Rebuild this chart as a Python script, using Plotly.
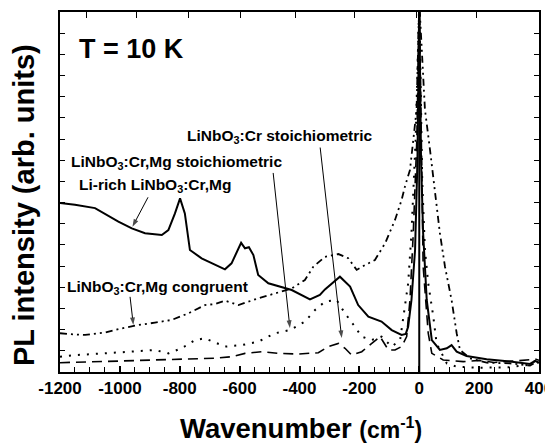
import plotly.graph_objects as go

# ---------------- data ----------------
x_solid = [-1200, -1150, -1083, -1005, -960, -916, -860, -838, -816, -799, -783, -766, -727, -682, -649,
           -627, -595, -582, -569, -554, -538, -504, -460, -426, -365, -332, -315, -287, -265, -231, -204,
           -170, -126, -92, -59, -45, -37, -26, -14, -6, 0, 6, 13, 25, 42, 69, 92, 108, 125, 158, 225,
           303, 370, 387, 400]
y_solid = [7.98, 7.9, 7.74, 7.1, 6.78, 6.55, 6.47, 6.7, 7.49, 8.2, 7.49, 5.76, 5.37, 5.05, 4.85,
           5.13, 6.1, 5.84, 5.89, 5.52, 4.58, 4.19, 4.03, 3.87, 3.43, 3.64, 3.9, 4.26, 4.5, 4.03, 3.16,
           2.61, 2.38, 1.98, 1.75, 1.8, 2.14, 3.4, 5.76, 10, 17.5, 10, 6.55, 3.4, 1.51, 1.04, 1.12, 1.27,
           0.96, 0.76, 0.6, 0.49, 0.38, 0.53, 0.45]

x_congruent = [-1200, -1172, -1116, -1050, -994, -938, -883, -827, -771, -716, -682, -649, -604, -538,
               -482, -426, -382, -354, -315, -270, -237, -209, -181, -148, -114, -81, -59, -48, -31, -9,
               0, 19, 36, 58, 69, 86, 108, 125, 136, 169, 225, 303, 370, 392, 400]
y_congruent = [1.83, 1.79, 1.75, 1.86, 2.06, 2.22, 2.33, 2.46, 2.77, 3.16, 3.21, 3.37, 3.16, 3.48,
               3.71, 3.95, 4.34, 4.97, 5.44, 5.57, 5.37, 4.82, 5.05, 5.29, 6.08, 7.18, 8.12, 8.75, 9.54,
               12.37, 17.5, 12.4, 10.48, 7.96, 6.55, 4.97, 3.4, 1.83, 1.04, 0.65, 0.44, 0.41, 0.3, 0.49, 0.4]

x_crmg_stoich = [-1200, -1150, -1050, -938, -883, -838, -794, -749, -716, -649, -593, -538, -482, -432,
                 -382, -348, -315, -276, -248, -215, -192, -159, -126, -92, -64, -37, -26, -12, 0, 10,
                 19, 30, 47, 58, 92, 125, 200, 300, 370, 385, 400]
y_crmg_stoich = [0.72, 0.8, 0.88, 1.0, 1.04, 0.88, 1.12, 1.51, 1.59, 1.2, 1.27, 1.43, 1.83, 1.98,
                 2.38, 2.93, 3.32, 3.4, 2.77, 2.14, 1.67, 1.51, 1.67, 1.2, 1.51, 4.19, 6.55, 11, 17.5, 9,
                 5.76, 4.19, 2.61, 1.35, 0.41, 0.25, 0.2, 0.22, 0.35, 0.5, 0.45]

x_cr_stoich = [-1200, -1105, -994, -883, -771, -682, -627, -582, -526, -471, -404, -337, -304, -270,
               -248, -226, -192, -159, -131, -103, -81, -59, -42, -31, -20, -8, 0, 8, 13, 30, 42, 80,
               147, 200, 250, 300, 350, 390, 400]
y_cr_stoich = [0.44, 0.49, 0.52, 0.57, 0.6, 0.65, 0.72, 0.88, 0.96, 0.88, 0.85, 0.91, 1.2, 1.35,
               1.12, 0.8, 0.96, 1.35, 1.67, 1.04, 1.04, 1.2, 1.67, 3.4, 6.55, 11, 17.5, 10, 5, 1.83,
               0.88, 0.57, 0.49, 0.55, 0.45, 0.5, 0.55, 0.6, 0.55]

x_range = [-1200, 400]
y_range = [0, 17]
x_major_ticks = [-1200, -1000, -800, -600, -400, -200, 0, 200, 400]
x_tick_labels = ["-1200", "-1000", "-800", "-600", "-400", "-200", "0", "200", "400"]
top_axis_ticks = [-1111, -946, -771, -596, -413, -217, -9, 192, 398]
y_ticks = list(range(0, 18))
zero_line_x = 0

x_title = "Wavenumber"
x_title_unit = "(cm<sup>-1</sup>)"
y_title = "PL intensity (arb. units)"

# label texts and positions (data units)
labels = [
    ("T = 10 K", -960, 15.25, 27),
    ("LiNbO<sub>3</sub>:Cr stoichiometric", -465, 11.1, 15.5),
    ("LiNbO<sub>3</sub>:Cr,Mg stoichiometric", -812, 9.9, 15.5),
    ("Li-rich LiNbO<sub>3</sub>:Cr,Mg", -883, 8.8, 15.5),
    ("LiNbO<sub>3</sub>:Cr,Mg congruent", -876, 4.0, 15.5),
]
# arrows: (tip x, tip y, tail x, tail y)
arrows = [
    (-259, 1.6, -331, 10.6),
    (-432, 2.08, -488, 9.4),
    (-958, 6.86, -906, 8.25),
    (-955, 2.22, -966, 3.55),
]

FONT = "Liberation Sans, Arial, sans-serif"

fig = go.Figure()
fig.add_trace(go.Scatter(x=x_cr_stoich, y=y_cr_stoich, mode="lines",
                         line=dict(color="black", width=1.6, dash="10px,6px"), hoverinfo="skip"))
fig.add_trace(go.Scatter(x=x_crmg_stoich, y=y_crmg_stoich, mode="lines",
                         line=dict(color="black", width=2, dash="2px,7px"), hoverinfo="skip"))
fig.add_trace(go.Scatter(x=x_congruent, y=y_congruent, mode="lines",
                         line=dict(color="black", width=1.8, dash="7px,4px,2px,4px,2px,4px"), hoverinfo="skip"))
fig.add_trace(go.Scatter(x=x_solid, y=y_solid, mode="lines",
                         line=dict(color="black", width=2), hoverinfo="skip"))
# invisible trace to carry the top axis
fig.add_trace(go.Scatter(x=x_range, y=y_range, xaxis="x2", mode="lines",
                         line=dict(width=0), opacity=0, hoverinfo="skip"))

# arrows as line + arrow marker at the tip
for tx, ty, sx, sy in arrows:
    fig.add_trace(go.Scatter(x=[sx, tx], y=[sy, ty], mode="lines+markers",
                             line=dict(color="black", width=1),
                             marker=dict(symbol="arrow", size=[0, 8], angleref="previous",
                                         color="black", line=dict(width=0)),
                             hoverinfo="skip", cliponaxis=False))

fig.add_shape(type="line", x0=zero_line_x, x1=zero_line_x, y0=0, y1=1, xref="x", yref="paper",
              line=dict(color="black", width=2))

for text, lx, ly, fs in labels:
    fig.add_annotation(x=lx, y=ly, text="<b>" + text + "</b>", showarrow=False,
                       font=dict(family=FONT, size=fs, color="black"), xanchor="center", yanchor="middle")

# axis titles
fig.add_annotation(xref="paper", yref="paper", x=0.503, y=-0.158, showarrow=False,
                   xanchor="center", yanchor="middle",
                   text="<b>" + x_title + " <span style='font-size:23px'>" + x_title_unit + "</span></b>",
                   font=dict(family=FONT, size=27.5, color="black"))
fig.add_annotation(xref="paper", yref="paper", x=-0.075, y=0.464, showarrow=False,
                   xanchor="center", yanchor="middle", textangle=-90,
                   text="<b>" + y_title + "</b>",
                   font=dict(family=FONT, size=29, color="black"))

# the page body has an 8px margin: margins compensate so the plot area sits at 60..539 x 12..372
fig.update_layout(
    width=553, height=444,
    margin=dict(l=52, r=22, t=4, b=80, autoexpand=False),
    paper_bgcolor="white", plot_bgcolor="white",
    showlegend=False,
    font=dict(family=FONT, color="black"),
    xaxis=dict(range=x_range, tickvals=x_major_ticks, ticktext=["<b>%s</b>" % t for t in x_tick_labels],
               ticks="inside", ticklen=6, tickwidth=1.5, tickcolor="black",
               minor=dict(dtick=50, tick0=-1200, ticks="inside", ticklen=5, tickwidth=1.2, tickcolor="black"),
               showline=True, linewidth=2, linecolor="black", mirror=True,
               showgrid=False, zeroline=False, automargin=False, ticklabeloverflow="allow",
               tickfont=dict(family=FONT, size=17, color="black")),
    xaxis2=dict(range=x_range, overlaying="x", side="top", tickvals=top_axis_ticks,
                showticklabels=False, ticks="inside", ticklen=6, tickwidth=1.2, tickcolor="black",
                showline=False, showgrid=False, zeroline=False, automargin=False),
    yaxis=dict(range=y_range, tickvals=y_ticks, showticklabels=False,
               ticks="inside", ticklen=5, tickwidth=1.2, tickcolor="black",
               showline=True, linewidth=2, linecolor="black", mirror="ticks",
               showgrid=False, zeroline=False, automargin=False),
)

fig.write_html("out.html")
